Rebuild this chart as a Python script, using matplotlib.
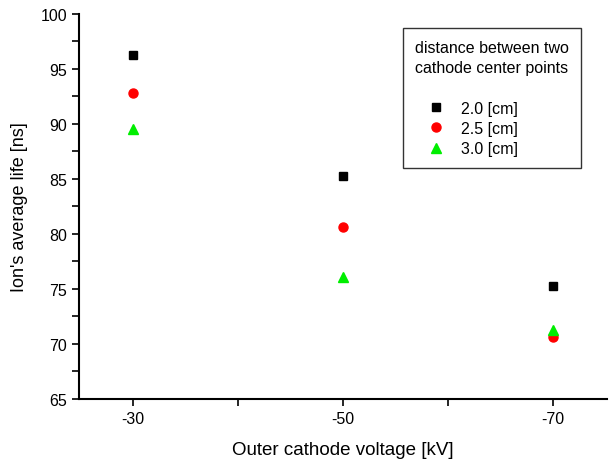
import matplotlib
matplotlib.use('Agg')
import matplotlib.pyplot as plt
from matplotlib.ticker import MultipleLocator, FixedLocator

plt.rcParams['font.family'] = ['Liberation Sans', 'DejaVu Sans']

# outer cathode voltage [kV]
voltage = [-30, -50, -70]
voltage_labels = ['-30', '-50', '-70']

# ion's average life [ns] for each cathode distance
life_20 = [96.3, 85.25, 75.3]
life_25 = [92.8, 80.65, 70.6]
life_30 = [89.5, 76.1, 71.3]

series_labels = ['2.0 [cm]', '2.5 [cm]', '3.0 [cm]']

fig = plt.figure(figsize=(6.11, 4.64), dpi=100)
ax = fig.add_axes([0.129, 0.138, 0.864, 0.830])

ax.plot(voltage, life_20, 's', color='black', markersize=6, label=series_labels[0])
ax.plot(voltage, life_25, 'o', color='red', markersize=6.5, label=series_labels[1])
ax.plot(voltage, life_30, '^', color='#00ee00', markersize=7, label=series_labels[2])

ax.set_xlim(-24.86, -75.14)
ax.set_ylim(65, 100)
ax.xaxis.set_major_locator(FixedLocator(voltage))
ax.set_xticklabels(voltage_labels)
ax.xaxis.set_minor_locator(FixedLocator([-40, -60]))
ax.yaxis.set_major_locator(MultipleLocator(5))
ax.yaxis.set_minor_locator(MultipleLocator(2.5))

for side in ['top', 'right']:
    ax.spines[side].set_visible(False)
for side in ['left', 'bottom']:
    ax.spines[side].set_linewidth(1.5)

ax.tick_params(which='major', direction='out', length=5, width=1.2, labelsize=11.5)
ax.tick_params(which='minor', direction='out', length=5, width=1.2)

ax.set_xlabel('Outer cathode voltage [kV]', fontsize=13.5, labelpad=11)
ax.set_ylabel("Ion's average life [ns]", fontsize=13, labelpad=9)

leg = ax.legend(title='distance between two\ncathode center points\n',
                loc='upper right', bbox_to_anchor=(0.951, 0.964),
                borderaxespad=0,
                fontsize=11.5, title_fontsize=11.5, alignment='left',
                frameon=True, fancybox=False, edgecolor='black',
                handletextpad=0.25, borderpad=0.75, labelspacing=0.33,
                handlelength=2.6)
leg.get_title().set_linespacing(1.45)
leg.get_frame().set_linewidth(1.0)

fig.savefig('out.png', dpi=100)
